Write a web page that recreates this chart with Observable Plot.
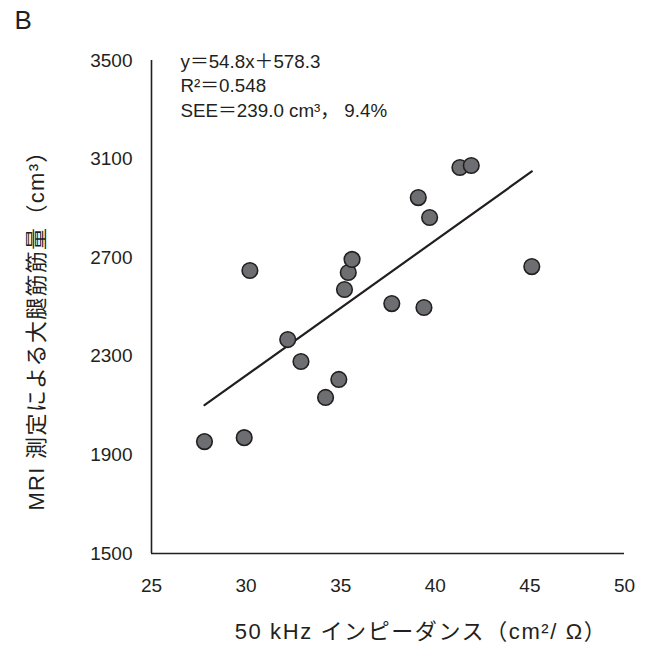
<!DOCTYPE html>
<html>
<head>
<meta charset="utf-8">
<script src="https://cdn.jsdelivr.net/npm/d3@7"></script>
<script src="https://cdn.jsdelivr.net/npm/@observablehq/plot@0.6"></script>
<style>
  html, body { margin: 0; padding: 0; background: #fff; }
  #chart svg { display: block; }
</style>
</head>
<body>
<div id="chart"></div>
<script>
// Data
const impedance = [27.8, 29.9, 30.2, 32.2, 32.9, 34.2, 34.9, 35.2, 35.4, 35.6, 37.7, 39.4, 39.1, 39.7, 41.3, 41.9, 45.1];
const muscleVolume = [1954, 1970, 2648, 2368, 2279, 2133, 2206, 2571, 2640, 2693, 2514, 2498, 2944, 2863, 3066, 3074, 2664];
const slope = 54.8;
const intercept = 578.3;
const xTicks = [25, 30, 35, 40, 45, 50];
const yTicks = [1500, 1900, 2300, 2700, 3100, 3500];
const panelLabel = "B";
const annotationLines = ["y＝54.8x＋578.3", "R²＝0.548", "SEE＝239.0 cm³， 9.4%"];
const xLabel = "50 kHz インピーダンス（cm²/ Ω）";
const yLabel = "MRI 測定による大腿筋筋量（cm³）";

const points = impedance.map((x, i) => ({x, y: muscleVolume[i]}));
const [x0, x1] = d3.extent(impedance);
const fitLine = [x0, x1].map(x => ({x, y: slope * x + intercept}));

const font = "'Liberation Sans', Arial, 'Noto Sans CJK JP', sans-serif";
const ink = "#231f20";

const chart = Plot.plot({
  width: 650,
  height: 646,
  marginLeft: 151,
  marginRight: 26,
  marginTop: 60,
  marginBottom: 93,
  style: {fontFamily: font, fontSize: "19px", color: ink, background: "#fff"},
  x: {domain: [25, 50], ticks: xTicks, label: null},
  y: {domain: [1500, 3500], ticks: yTicks, label: null},
  marks: [
    Plot.axisX({ticks: xTicks, tickSize: 0, tickPadding: 25, fontSize: 19, label: null, fill: ink, tickFormat: d => String(d)}),
    Plot.axisY({ticks: yTicks, tickSize: 0, tickPadding: 19, fontSize: 19, label: null, fill: ink, tickFormat: d => String(d)}),
    Plot.ruleX([25], {stroke: ink, strokeWidth: 1.6}),
    Plot.ruleY([1500], {stroke: ink, strokeWidth: 1.6}),
    Plot.line(fitLine, {x: "x", y: "y", stroke: ink, strokeWidth: 2.2}),
    Plot.dot(points, {x: "x", y: "y", r: 7.8, fill: "#6d6e71", stroke: ink, strokeWidth: 1.6}),
    Plot.text([annotationLines.join("\n")], {
      frameAnchor: "top-left", dx: 29, dy: -10, textAnchor: "start", lineAnchor: "top",
      fontSize: 18.8, lineHeight: 1.3, fill: ink
    }),
    Plot.text([panelLabel], {
      frameAnchor: "top-left", dx: -137, dy: -50, textAnchor: "start", lineAnchor: "top",
      fontSize: 26, fill: ink
    }),
    Plot.text([xLabel], {
      frameAnchor: "bottom", dx: 33, dy: 78, textAnchor: "middle", lineAnchor: "middle",
      fontSize: 22, fill: ink
    }),
    Plot.text([yLabel], {
      frameAnchor: "left", dx: -115, dy: 18, textAnchor: "middle", rotate: -90, lineAnchor: "middle",
      fontSize: 22, fill: ink
    })
  ]
});
chart.querySelectorAll("text").forEach(t => {
  if (t.textContent === xLabel) t.style.letterSpacing = "1.6px";
  if (t.textContent === yLabel) t.style.letterSpacing = "1.3px";
});
document.getElementById("chart").append(chart);
</script>
</body>
</html>
